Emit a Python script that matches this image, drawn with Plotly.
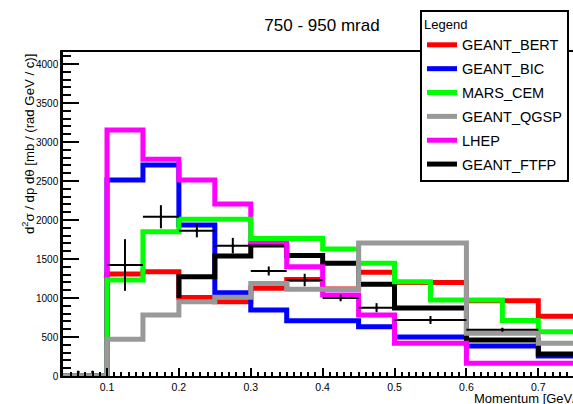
import plotly.graph_objects as go

# ---------------- data ----------------
BIN_EDGES = [0.00, 0.05, 0.10, 0.15, 0.20, 0.25, 0.30, 0.35, 0.40, 0.45,
             0.50, 0.55, 0.60, 0.65, 0.70, 0.75, 0.80]

GEANT_BERT = [0, 0, 1308, 1337, 1006, 953, 1124, 1237, 1115, 1329, 1199, 1199, 965, 965, 765, 765]
GEANT_BIC  = [0, 0, 2513, 2705, 1936, 1068, 846, 709, 709, 632, 500, 500, 385, 385, 256, 256]
MARS_CEM   = [0, 0, 1231, 1850, 2009, 2009, 1763, 1765, 1628, 1445, 1209, 975, 975, 712, 568, 568]
GEANT_QGSP = [0, 0, 471, 782, 953, 1009, 1186, 1112, 1112, 1705, 1705, 1705, 547, 547, 419, 419]
LHEP       = [0, 0, 3154, 2778, 2513, 2205, 1718, 1401, 1038, 782, 419, 419, 163, 163, 163, 163]

FTFP_EDGES = [0.20, 0.25, 0.30, 0.35, 0.40, 0.45, 0.50, 0.55, 0.60, 0.65, 0.70, 0.75, 0.80]
GEANT_FTFP = [1273, 1538, 1679, 1545, 1445, 1176, 872, 872, 462, 462, 282, 282]
FTFP_LEAD = 1000

DATA_X  = [0.06, 0.08, 0.125, 0.175, 0.225, 0.275, 0.325, 0.375, 0.425, 0.475, 0.55, 0.65]
DATA_Y  = [50, 50, 1423, 2042, 1863, 1671, 1346, 1231, 1000, 876, 718, 594]
DATA_EX = [0, 0, 0.025, 0.025, 0.025, 0.025, 0.025, 0.025, 0.025, 0.025, 0.05, 0.05]
DATA_EY = [0, 0, 331, 148, 85, 100, 58, 80, 42, 58, 51, 25]

TITLE = "750 - 950 mrad"
X_TITLE = "Momentum [GeV/c]"
Y_TITLE = "d<sup>2</sup>σ / dp dθ [mb / (rad GeV / c)]"

# ---------------- helpers ----------------
def steps(edges, vals, lead=None):
    xs, ys = [], []
    if lead is not None:
        xs.append(edges[0]); ys.append(lead)
    for i, v in enumerate(vals):
        xs += [edges[i], edges[i + 1]]
        ys += [v, v]
    return xs, ys

FONT = "Liberation Sans, Arial, Helvetica, sans-serif"
W, H = 573, 404
ML, MR, MT, MB = 63, 0, 52, 28
PW, PH = W - ML - MR, H - MT - MB

# x calibration: 0.1 -> 107 px, 0.7 -> 538.3 px
PXU = (538.3 - 107) / 0.6
XMIN = 0.1 - (107 - ML) / PXU
XMAX = XMIN + PW / PXU
# y calibration: 0 -> 376 px, 4000 -> 64 px
PYU = (376 - 64) / 4000
YMAX = PH / PYU

fig = go.Figure()

series = [
    ("GEANT_BERT", GEANT_BERT, "#ff0000", 1),
    ("GEANT_BIC", GEANT_BIC, "#0000ff", 2),
]
for name, vals, col, rank in series:
    xs, ys = steps(BIN_EDGES, vals)
    fig.add_trace(go.Scatter(x=xs, y=ys, mode="lines", name=name,
                             line=dict(color=col, width=5), legendrank=rank,
                             legendgroup=name))

xs, ys = steps(FTFP_EDGES, GEANT_FTFP, FTFP_LEAD)
fig.add_trace(go.Scatter(x=xs, y=ys, mode="lines", name="GEANT_FTFP",
                         line=dict(color="#000000", width=5), legendrank=6,
                         legendgroup="GEANT_FTFP"))

series2 = [
    ("LHEP", LHEP, "#ff00ff", 5),
    ("MARS_CEM", MARS_CEM, "#00ff00", 3),
    ("GEANT_QGSP", GEANT_QGSP, "#999999", 4),
]
for name, vals, col, rank in series2:
    xs, ys = steps(BIN_EDGES, vals)
    fig.add_trace(go.Scatter(x=xs, y=ys, mode="lines", name=name,
                             line=dict(color=col, width=5), legendrank=rank,
                             legendgroup=name))

fig.add_trace(go.Scatter(
    x=DATA_X, y=DATA_Y, mode="markers", showlegend=False,
    marker=dict(color="black", size=3),
    error_x=dict(type="data", array=DATA_EX, color="black", thickness=2, width=0),
    error_y=dict(type="data", array=DATA_EY, color="black", thickness=2, width=0),
))

fig.update_layout(
    width=W, height=H,
    margin=dict(l=ML, r=MR, t=MT, b=MB, pad=0),
    paper_bgcolor="white", plot_bgcolor="white",
    font=dict(family=FONT, color="black"),
    title=dict(text=TITLE, x=322 / W, y=1 - 25 / H, xanchor="center", yanchor="middle",
               font=dict(size=17, family=FONT, color="black")),
    showlegend=True,
    legend=dict(
        x=(420 - ML) / PW, y=(376 - 10) / PH, xanchor="left", yanchor="top",
        bgcolor="white", bordercolor="black", borderwidth=2,
        font=dict(size=14.5, family=FONT, color="black"),
        title=dict(text="Legend", font=dict(size=13, family=FONT)),
        tracegroupgap=2, itemwidth=30,
    ),
)

fig.update_xaxes(
    range=[XMIN, XMAX], showgrid=False, zeroline=False,
    showline=True, linecolor="black", linewidth=2, mirror=True,
    ticks="inside", ticklen=8, tickwidth=1.5, tickcolor="black",
    tick0=0, dtick=0.1, tickfont=dict(size=10.5, family=FONT, color="black"),
    minor=dict(dtick=0.01, ticks="inside", ticklen=4, tickwidth=1.5, tickcolor="black"),
)
fig.update_yaxes(
    range=[0, YMAX], showgrid=False, zeroline=False,
    showline=True, linecolor="black", linewidth=2.5, mirror=False,
    ticks="inside", ticklen=16, tickwidth=2, tickcolor="black",
    tick0=0, dtick=500, tickfont=dict(size=10, family=FONT, color="black"),
    minor=dict(dtick=100, ticks="inside", ticklen=8, tickwidth=2, tickcolor="black"),
)

fig.add_annotation(text=Y_TITLE, xref="paper", yref="paper",
                   x=(28 - ML) / PW, y=1, xanchor="center", yanchor="top",
                   textangle=-90, showarrow=False,
                   font=dict(size=13.2, family=FONT, color="black"))
fig.add_annotation(text=X_TITLE, xref="paper", yref="paper",
                   x=(472 - ML) / PW, y=(376 - 398) / PH, xanchor="left", yanchor="middle",
                   showarrow=False, font=dict(size=13, family=FONT, color="black"))

fig.write_html("out.html")
